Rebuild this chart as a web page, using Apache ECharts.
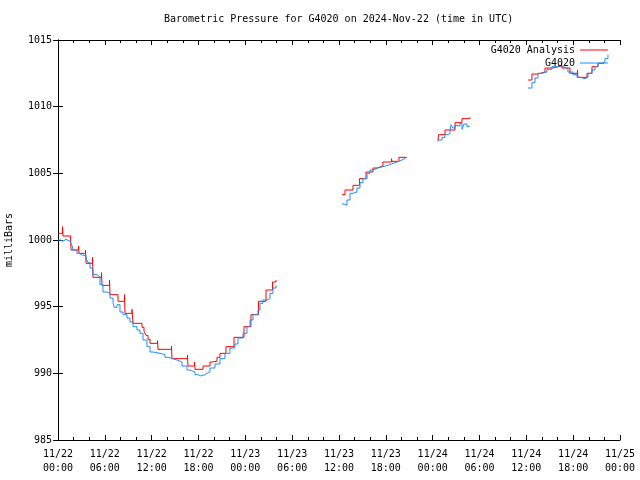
<!DOCTYPE html>
<html>
<head>
<meta charset="utf-8">
<script src="https://cdn.jsdelivr.net/npm/echarts@6/dist/echarts.min.js"></script>
<style>html,body{margin:0;padding:0;background:#fff}#c{width:640px;height:480px}</style>
</head>
<body>
<div id="c"></div>
<script>
// Hours since 2024-11-22 00:00 UTC; null = data gap
const xTickLabels = ['11/22\n00:00','11/22\n06:00','11/22\n12:00','11/22\n18:00','11/23\n00:00','11/23\n06:00','11/23\n12:00','11/23\n18:00','11/24\n00:00','11/24\n06:00','11/24\n12:00','11/24\n18:00','11/25\n00:00'];

const analysisHours = [
  0.00,0.58,0.64,1.60,1.67,2.63,2.69,3.52,3.59,4.42,4.48,5.57,5.64,6.60,6.66,7.69,8.52,8.58,9.48,9.61,
  10.50,10.76,11.02,11.27,11.53,11.79,12.75,12.81,14.54,14.60,16.59,16.65,17.49,17.55,18.58,19.47,19.73,
  20.37,20.75,21.52,22.55,23.83,24.72,25.69,26.65,27.48,27.93,
  27.94,
  36.38,36.77,37.79,38.62,39.46,40.35,40.87,41.63,42.72,42.79,43.68,44.71,
  44.72,
  48.68,48.75,49.58,50.86,51.76,52.78,
  52.79,
  60.21,60.72,61.49,62.39,63.41,64.50,64.57,65.59,66.55,66.60,67.77,68.41,69.18,69.94
];
const analysisMb = [
  1000.5,1001.0,1000.3,1000.45,999.25,999.55,999.0,999.25,998.25,998.7,997.2,997.55,996.6,997.0,995.9,995.4,995.9,994.5,994.8,993.75,
  993.75,993.45,993.15,992.85,992.55,992.25,992.45,991.8,992.05,991.1,991.35,990.55,990.85,990.3,990.55,990.85,990.9,
  991.2,991.5,992.0,992.7,993.5,994.4,995.4,996.25,996.85,997.0,
  null,
  1003.4,1003.75,1004.1,1004.6,1005.1,1005.4,1005.55,1005.85,1006.1,1005.9,1006.2,1006.25,
  null,
  1007.4,1007.9,1008.25,1008.8,1009.1,1009.2,
  null,
  1012.0,1012.45,1012.6,1012.9,1013.05,1013.3,1012.9,1012.5,1012.75,1012.2,1012.5,1013.0,1013.25,1013.3
];

const stationHours = [
  0.00,0.30,0.64,1.02,1.54,1.79,1.92,2.43,2.69,3.20,3.59,3.84,4.10,4.48,5.00,5.38,5.76,6.28,6.66,7.05,7.20,7.56,
  7.94,8.33,8.84,9.22,9.61,10.12,10.50,10.89,11.40,11.79,12.17,13.07,13.71,14.09,14.40,14.60,15.24,15.89,16.53,
  16.91,17.55,17.94,18.20,18.45,18.83,19.09,19.47,20.11,20.75,21.39,22.03,22.67,23.06,23.70,24.21,24.60,24.98,
  25.62,25.88,26.26,26.77,27.16,27.54,27.93,
  27.94,
  36.38,36.64,37.02,37.41,37.79,38.30,38.69,39.07,39.59,39.97,40.35,40.99,41.63,42.27,42.92,43.43,44.07,44.45,
  44.46,
  48.68,49.19,49.58,49.96,50.22,50.35,50.60,50.86,51.11,51.50,51.76,52.01,52.40,52.66,
  52.67,
  60.21,60.72,61.11,61.49,62.00,62.64,63.28,63.93,64.31,64.95,65.33,65.97,66.49,66.87,67.51,67.90,68.41,68.80,
  69.18,69.69,70.07,70.46
];
const stationMb = [
  1000.0,999.9,1000.05,999.9,999.95,999.6,999.25,999.0,998.85,998.85,998.65,998.3,997.9,997.4,997.25,996.65,996.1,996.0,995.65,995.3,994.95,995.15,
  994.6,994.4,994.15,993.85,993.5,993.25,993.0,992.5,992.0,991.6,991.5,991.4,991.2,991.15,991.3,991.0,990.85,990.55,990.25,
  990.1,989.9,989.8,989.75,989.9,990.0,990.1,990.4,990.7,991.1,991.5,991.9,992.2,992.65,993.0,993.5,994.0,994.4,
  994.75,995.25,995.5,995.6,996.0,996.4,996.6,
  null,
  1002.7,1002.6,1003.0,1003.5,1003.6,1003.9,1004.3,1004.6,1005.0,1005.25,1005.4,1005.5,1005.6,1005.75,1005.85,1006.0,1006.1,1006.2,
  null,
  1007.5,1007.7,1007.9,1008.0,1008.2,1008.65,1008.4,1008.6,1008.55,1008.75,1008.3,1008.7,1008.5,1008.6,
  null,
  1011.4,1011.8,1012.15,1012.5,1012.6,1012.8,1013.0,1013.1,1012.95,1012.9,1012.6,1012.4,1012.2,1012.1,1012.2,1012.5,1012.75,1013.0,
  1013.25,1013.35,1013.6,1013.9
];

const toPairs = (hs, vs) => hs.map((h, i) => [h, vs[i] === null ? '-' : vs[i]]);

const FONT = 'DejaVu Sans Mono';
const black = '#000';

const chart = echarts.init(document.getElementById('c'), null, {renderer: 'canvas'});

const xCommon = {
  type: 'value', min: 0, max: 72, interval: 6,
  axisLine: {show: true, lineStyle: {color: black, width: 1}},
  axisTick: {show: true, inside: true, length: 5, lineStyle: {color: black}},
  minorTick: {show: true, splitNumber: 3, length: 3, lineStyle: {color: black}},
  splitLine: {show: false},
  minorSplitLine: {show: false}
};
const yCommon = {
  type: 'value', min: 985, max: 1015, interval: 5,
  axisLine: {show: true, lineStyle: {color: black, width: 1}},
  axisTick: {show: true, inside: true, length: 5, lineStyle: {color: black}},
  splitLine: {show: false}
};

chart.setOption({
  animation: false,
  backgroundColor: '#fff',
  textStyle: {fontFamily: FONT, fontSize: 10, color: black},
  title: {
    text: 'Barometric Pressure for G4020 on 2024-Nov-22 (time in UTC)',
    left: 164, top: 14, padding: 0,
    textStyle: {fontFamily: FONT, fontSize: 10, fontWeight: 'normal', color: black}
  },
  grid: {left: 58, right: 20, top: 40, bottom: 40, show: false, containLabel: false, outerBoundsMode: 'none'},
  legend: [
    {data: ['G4020 Analysis'], right: 32, top: 45, padding: 0, align: 'right', orient: 'vertical',
     icon: 'rect', itemWidth: 28, itemHeight: 1, selectedMode: false,
     textStyle: {fontFamily: FONT, fontSize: 10, color: black}},
    {data: ['G4020'], right: 32, top: 58, padding: 0, align: 'right', orient: 'vertical',
     icon: 'rect', itemWidth: 28, itemHeight: 1, selectedMode: false,
     textStyle: {fontFamily: FONT, fontSize: 10, color: black}}
  ],
  xAxis: [
    Object.assign({}, xCommon, {
      position: 'bottom',
      axisLabel: {
        show: true, margin: 7, lineHeight: 14, fontFamily: FONT, fontSize: 10, color: black,
        formatter: v => xTickLabels[Math.round(v / 6)] || ''
      }
    }),
    Object.assign({}, xCommon, {position: 'top', axisLabel: {show: false}})
  ],
  yAxis: [
    Object.assign({}, yCommon, {
      position: 'left',
      name: 'milliBars', nameLocation: 'middle', nameGap: 44, nameRotate: 90,
      nameTextStyle: {fontFamily: FONT, fontSize: 10, color: black},
      axisLabel: {show: true, margin: 6, fontFamily: FONT, fontSize: 10, color: black,
        formatter: v => String(v)}
    }),
    Object.assign({}, yCommon, {position: 'right', axisLabel: {show: false}})
  ],
  series: [
    {
      name: 'G4020 Analysis', type: 'line', step: 'end', showSymbol: false, symbol: 'none',
      connectNulls: false, color: '#ff0000',
      lineStyle: {width: 1, color: '#ff0000'},
      data: toPairs(analysisHours, analysisMb), z: 2
    },
    {
      name: 'G4020', type: 'line', step: 'end', showSymbol: false, symbol: 'none',
      connectNulls: false, color: '#1e8cff',
      lineStyle: {width: 1, color: '#1e8cff'},
      data: toPairs(stationHours, stationMb), z: 3
    }
  ]
});
</script>
</body>
</html>
